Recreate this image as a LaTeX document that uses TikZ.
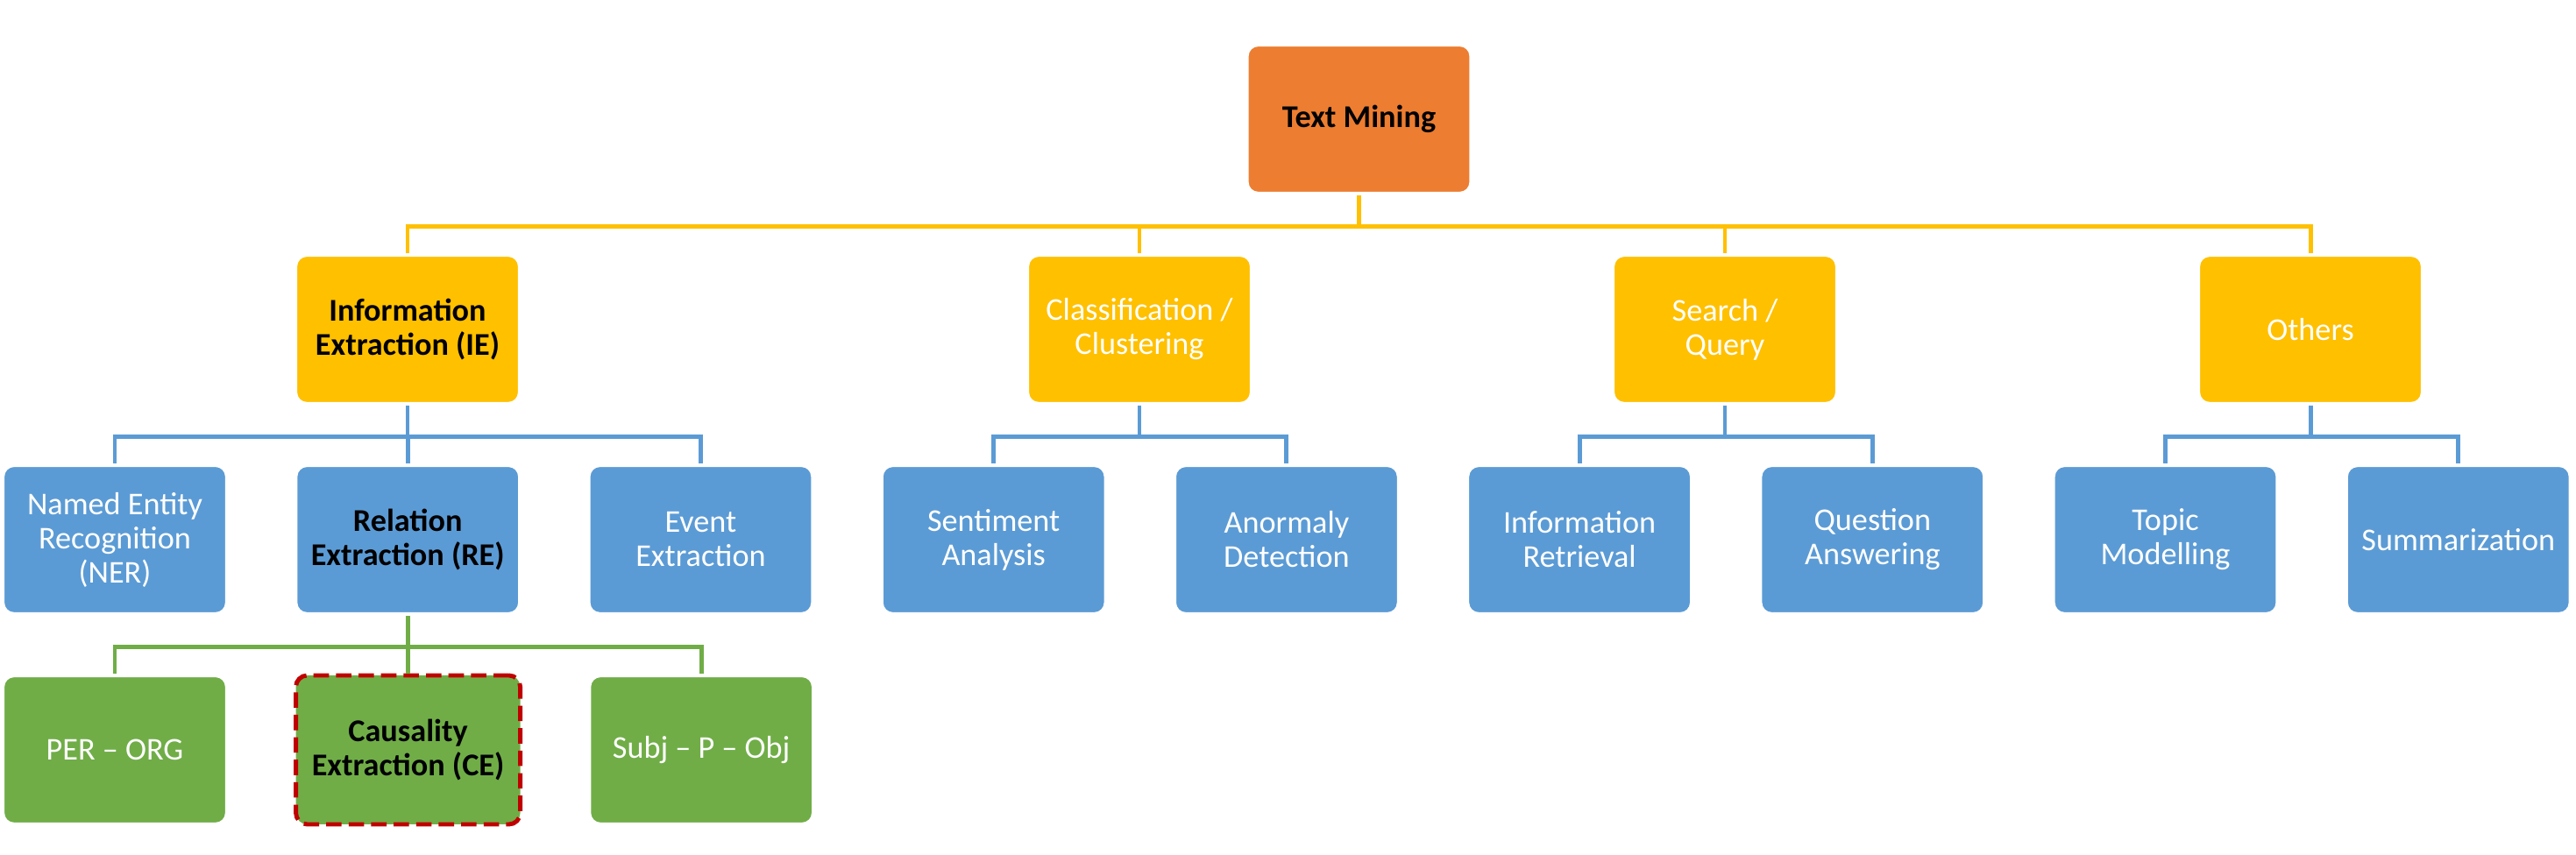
\documentclass[tikz,border=0pt]{standalone}
\usepackage{fontspec}
\setmainfont{Carlito}
\usetikzlibrary{positioning}
\definecolor{tmorange}{HTML}{ED7D31}
\definecolor{tmyellow}{HTML}{FFC000}
\definecolor{tmblue}{HTML}{5B9BD5}
\definecolor{tmgreen}{HTML}{70AD47}
\definecolor{tmred}{HTML}{C00000}
\tikzset{%
box/.style={draw=white,line width=1.2pt,rounded corners=3.7pt,
            minimum width=2.56cm,minimum height=1.70cm,align=center,
            text=white,font=\fontsize{10.3}{11.1}\selectfont},
root/.style={box,fill=tmorange,text=black,font=\fontsize{10.3}{11.1}\selectfont\bfseries},
task/.style={box,fill=tmyellow},
method/.style={box,fill=tmblue},
sub/.style={box,fill=tmgreen},
key/.style={text=black,font=\fontsize{10.3}{11.1}\selectfont\bfseries},
focus/.style={draw=tmred,dash pattern=on 5pt off 2.3pt,line width=1.4pt},
ylink/.style={draw=tmyellow,line width=1.4pt},
blink/.style={draw=tmblue,line width=1.4pt},
glink/.style={draw=tmgreen,line width=1.4pt}
}
\begin{document}
\begin{tikzpicture}
\useasboundingbox (0,0) rectangle (29.39,9.76);
\node[root]       (tm)   at (15.505,8.40) {Text Mining};
\node[task,key]   (ie)   at (4.65,6.00)   {Information\\Extraction (IE)};
\node[task]       (cls)  at (13.00,6.00)  {Classification /\\Clustering};
\node[task]       (srch) at (19.68,6.00)  {Search /\\Query};
\node[task]       (oth)  at (26.36,6.00)  {Others};

\node[method]                      (ner)  at (1.31,3.60) {Named Entity\\Recognition\\(NER)};
\node[method,key,right=0.74cm of ner]  (rel)  {Relation\\Extraction (RE)};
\node[method,right=0.74cm of rel]  (evt)  {Event\\Extraction};
\node[method,right=0.74cm of evt]  (sent) {Sentiment\\Analysis};
\node[method,right=0.74cm of sent] (anom) {Anormaly\\Detection};
\node[method,right=0.74cm of anom] (ir)   {Information\\Retrieval};
\node[method,right=0.74cm of ir]   (qa)   {Question\\Answering};
\node[method,right=0.74cm of qa]   (topic){Topic\\Modelling};
\node[method,right=0.74cm of topic](summ) {Summarization};

\node[sub]                       (per)  at (1.31,1.20) {PER -- ORG};
\node[sub,key,focus,right=0.74cm of per] (ce) {Causality\\Extraction (CE)};
\node[sub,right=0.74cm of ce]    (spo)  {Subj -- P -- Obj};

\foreach \c in {ie,cls,srch,oth}
  \draw[ylink] (tm.south) -- ++(0,-0.35) -| (\c.north);

\foreach \p/\c in {ie/ner,ie/rel,ie/evt,
                   cls/sent,cls/anom,
                   srch/ir,srch/qa,
                   oth/topic,oth/summ}
  \draw[blink] (\p.south) -- ++(0,-0.35) -| (\c.north);

\foreach \c in {per,ce,spo}
  \draw[glink] (rel.south) -- ++(0,-0.35) -| (\c.north);
\end{tikzpicture}
\end{document}
